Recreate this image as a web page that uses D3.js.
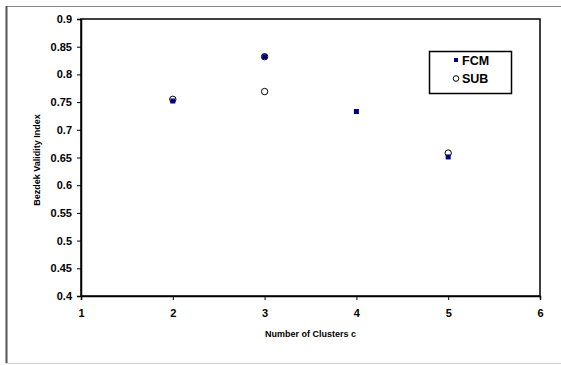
<!DOCTYPE html>
<html>
<head>
<meta charset="utf-8">
<script src="https://cdn.jsdelivr.net/npm/d3@7"></script>
<style>
  html, body { margin: 0; padding: 0; background: #fff; }
  svg { display: block; font-family: "Liberation Sans", Arial, sans-serif; }
</style>
</head>
<body>
<svg id="chart" width="561" height="365"></svg>
<script>
// Bezdek validity index against the number of clusters
const fcmClusters = [2, 3, 4, 5];
const fcmValues   = [0.752, 0.832, 0.733, 0.651];
const subClusters = [2, 3, 3, 5];
const subValues   = [0.755, 0.832, 0.769, 0.658];
const xTicks = [1, 2, 3, 4, 5, 6];
const yTicks = [0.4, 0.45, 0.5, 0.55, 0.6, 0.65, 0.7, 0.75, 0.8, 0.85, 0.9];

const svg = d3.select("#chart");
const plot = { left: 81, right: 540, top: 19, bottom: 296 };

// outer frame
svg.append("line").attr("x1", 6).attr("x2", 561).attr("y1", 6.5).attr("y2", 6.5)
  .attr("stroke", "#8a8a8a").attr("stroke-width", 1);
svg.append("line").attr("x1", 6.5).attr("x2", 6.5).attr("y1", 6).attr("y2", 363)
  .attr("stroke", "#555").attr("stroke-width", 2);
svg.append("line").attr("x1", 6).attr("x2", 561).attr("y1", 363.5).attr("y2", 363.5)
  .attr("stroke", "#cfcfcf").attr("stroke-width", 1);

const x = d3.scaleLinear().domain([1, 6]).range([plot.left, plot.right]);
const y = d3.scaleLinear().domain([0.4, 0.9]).range([plot.bottom, plot.top]);

// plot area border
svg.append("rect")
  .attr("x", plot.left).attr("y", plot.top)
  .attr("width", plot.right - plot.left).attr("height", plot.bottom - plot.top)
  .attr("fill", "none").attr("stroke", "#000").attr("stroke-width", 1.5);

// axes
const xAxis = svg.append("g").attr("transform", `translate(0,${plot.bottom})`)
  .call(d3.axisBottom(x).tickValues(xTicks).tickFormat(d3.format("d")).tickSize(4).tickPadding(9));
const yAxis = svg.append("g").attr("transform", `translate(${plot.left},0)`)
  .call(d3.axisLeft(y).tickValues(yTicks).tickFormat(d => String(+d.toFixed(2))).tickSize(4).tickPadding(5));
[xAxis, yAxis].forEach(g => {
  g.select(".domain").attr("stroke", "#000").attr("stroke-width", 1.5);
  g.selectAll(".tick line").attr("stroke", "#000");
  g.selectAll(".tick text").attr("fill", "#000").attr("font-size", 11).attr("font-weight", "bold")
    .attr("font-family", "'Liberation Sans', Arial, sans-serif");
});

// axis titles
svg.append("text").attr("x", (plot.left + plot.right) / 2).attr("y", 337)
  .attr("text-anchor", "middle").attr("font-size", 9).attr("font-weight", "bold")
  .text("Number of Clusters c");
svg.append("text").attr("transform", `translate(40,160) rotate(-90)`)
  .attr("text-anchor", "middle").attr("font-size", 9).attr("font-weight", "bold")
  .text("Bezdek Validity Index");

// SUB series: hollow circles
svg.append("g").selectAll("circle")
  .data(subClusters.map((c, i) => ({ c, v: subValues[i] })))
  .join("circle")
  .attr("cx", d => x(d.c)).attr("cy", d => y(d.v)).attr("r", 3.2)
  .attr("fill", "#fff").attr("stroke", "#000").attr("stroke-width", 1);

// FCM series: filled navy squares
svg.append("g").selectAll("rect")
  .data(fcmClusters.map((c, i) => ({ c, v: fcmValues[i] })))
  .join("rect")
  .attr("x", d => x(d.c) - 2.5).attr("y", d => y(d.v) - 2.5)
  .attr("width", 5).attr("height", 5).attr("fill", "#000080");

// legend
const lg = svg.append("g");
lg.append("rect").attr("x", 429.5).attr("y", 51.5).attr("width", 82).attr("height", 42)
  .attr("fill", "#fff").attr("stroke", "#000").attr("stroke-width", 1.5);
lg.append("rect").attr("x", 454).attr("y", 58).attr("width", 4).attr("height", 4).attr("fill", "#000080");
lg.append("circle").attr("cx", 456).attr("cy", 78.5).attr("r", 2.8)
  .attr("fill", "#fff").attr("stroke", "#000").attr("stroke-width", 1);
lg.append("text").attr("x", 462).attr("y", 64.5).attr("font-size", 12.5).attr("font-weight", "bold").text("FCM");
lg.append("text").attr("x", 462).attr("y", 83).attr("font-size", 12.5).attr("font-weight", "bold").text("SUB");
</script>
</body>
</html>
